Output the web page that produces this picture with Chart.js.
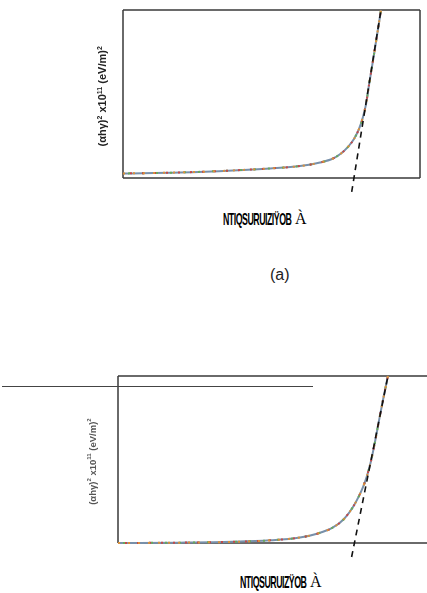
<!DOCTYPE html>
<html>
<head>
<meta charset="utf-8">
<script src="https://cdn.jsdelivr.net/npm/chart.js@4.4.0/dist/chart.umd.min.js"></script>
<style>
  html, body { margin: 0; padding: 0; background: #fff; }
  body { width: 427px; height: 593px; position: relative; overflow: hidden; }
  canvas { position: absolute; }
  .ylab { position: absolute; white-space: nowrap; font-family: "Liberation Sans", Arial, sans-serif;
          font-weight: bold; text-align: center; transform: rotate(-90deg); transform-origin: center center; }
  .xlab { position: absolute; white-space: nowrap; height: 20px; }
  .xlab .g { display: inline-block; width: 70px; height: 18px; position: relative; vertical-align: bottom; }
  .xlab .gi { position: absolute; left: 0; top: 0; font-family: "Liberation Sans Narrow", "Liberation Sans", sans-serif;
              font-weight: bold; font-size: 17px; letter-spacing: -1px; transform: scaleX(0.52);
              transform-origin: left center; }
  .xlab .s { font-family: "Liberation Serif", serif; font-size: 16px; margin-left: 2px; vertical-align: bottom; }
</style>
</head>
<body>
<canvas id="chart_a" width="427" height="200" style="left:0;top:0;width:427px;height:200px"></canvas>
<canvas id="chart_b" width="480" height="210" style="left:0;top:360px;width:480px;height:210px"></canvas>

<div class="ylab" style="left:32px;top:90px;width:140px;font-size:11px;color:#222">(αhγ)<sup style="font-size:7px">2</sup> x10<sup style="font-size:7px">11</sup> (eV/m)<sup style="font-size:7px">2</sup></div>
<div class="ylab" style="left:32px;top:456px;width:120px;font-size:9.5px;color:#555">(αhγ)<sup style="font-size:6px">2</sup> x10<sup style="font-size:6px">11</sup> (eV/m)<sup style="font-size:6px">2</sup></div>

<div class="xlab" style="left:223px;top:210px"><span class="g"><span class="gi">NTIQSURUIZIŸOB</span></span><span class="s">À</span></div>
<div class="xlab" style="left:240px;top:573px"><span class="g" style="width:68px"><span class="gi">NTIQSURUIZŸOB</span></span><span class="s">À</span></div>
<div style="position:absolute;left:270px;top:266px;font-family:'Liberation Sans',Arial,sans-serif;font-size:16px;color:#222">(a)</div>
<div style="position:absolute;left:2px;top:386px;width:311px;height:0;border-top:1.5px solid #444"></div>

<script>
// panel (a) data, photon energy (eV) vs (ahv)^2
const energy_a = [1.5, 2.076, 2.611, 2.985, 3.288, 3.49, 3.621, 3.702, 3.773, 3.833, 3.884, 3.924, 3.955, 3.985, 4.036, 4.106];
const abs_a    = [0.27, 0.33, 0.45, 0.57, 0.71, 0.92, 1.16, 1.46, 1.85, 2.32, 2.92, 3.63, 4.40, 5.54, 7.38, 10.0];
// tangent line (a)
const fit_x_a = [3.81, 4.106];
const fit_y_a = [-0.83, 10.0];

// panel (b) data
const energy_b = [1.5, 2.126, 2.662, 3.035, 3.338, 3.52, 3.672, 3.783, 3.874, 3.934, 3.975, 4.015, 4.056, 4.096, 4.136, 4.177, 4.227];
const abs_b    = [0.0, 0.02, 0.07, 0.16, 0.33, 0.57, 0.93, 1.44, 2.16, 2.81, 3.35, 4.01, 4.91, 6.05, 7.31, 8.56, 10.0];
// tangent line (b)
const fit_x_b = [3.86, 4.227];
const fit_y_b = [-0.84, 10.0];

function pts(xs, ys) {
    return xs.map((x, i) => ({x: x, y: ys[i]}));
}

// draws the frame round the plot area
function framePlugin(sides) {
    return {
        id: "frame",
        beforeDatasetsDraw(chart) {
            const a = chart.chartArea;
            const ctx = chart.ctx;
            ctx.save();
            ctx.strokeStyle = "#3a3a3a";
            ctx.lineWidth = 1.5;
            ctx.beginPath();
            if (sides.top) { ctx.moveTo(a.left, a.top); ctx.lineTo(a.right, a.top); }
            if (sides.right) { ctx.moveTo(a.right, a.top); ctx.lineTo(a.right, a.bottom); }
            if (sides.bottom) { ctx.moveTo(a.left, a.bottom); ctx.lineTo(a.right, a.bottom); }
            if (sides.left) { ctx.moveTo(a.left, a.top); ctx.lineTo(a.left, a.bottom); }
            ctx.stroke();
            ctx.restore();
        }
    };
}

// the measured curve is several overlapping coloured traces
// (lower index is drawn on top, so the plain trace goes last)
function curveSets(data) {
    const base = {data: data, pointRadius: 0, fill: false, clip: false, cubicInterpolationMode: "monotone"};
    return [
        Object.assign({}, base, {borderColor: "#d9903a", borderWidth: 2, borderDash: [2, 8]}),
        Object.assign({}, base, {borderColor: "#c44848", borderWidth: 2, borderDash: [2, 10], borderDashOffset: 5}),
        Object.assign({}, base, {borderColor: "#68a95a", borderWidth: 2, borderDash: [2, 12], borderDashOffset: 9}),
        Object.assign({}, base, {borderColor: "#7890aa", borderWidth: 2})
    ];
}

function fitSet(data) {
    return {data: data, pointRadius: 0, fill: false, clip: false, borderColor: "#111",
            borderWidth: 1.6, borderDash: [6, 5], tension: 0};
}

function makeChart(canvas, curve, fit, xmin, xmax, padding, sides) {
    return new Chart(canvas, {
        type: "line",
        data: {datasets: [fitSet(fit)].concat(curveSets(curve))},
        options: {
            responsive: false,
            animation: false,
            layout: {padding: padding},
            plugins: {legend: {display: false}, tooltip: {enabled: false}},
            scales: {
                x: {type: "linear", display: false, min: xmin, max: xmax},
                y: {type: "linear", display: false, min: 0, max: 10}
            }
        },
        plugins: [framePlugin(sides)]
    });
}

const chart_a = makeChart(document.getElementById("chart_a"), pts(energy_a, abs_a), pts(fit_x_a, fit_y_a),
    1.5, 4.5, {left: 123, top: 10, right: 7, bottom: 22},
    {top: true, right: true, bottom: true, left: true});

const chart_b = makeChart(document.getElementById("chart_b"), pts(energy_b, abs_b), pts(fit_x_b, fit_y_b),
    1.5, 5.056, {left: 118, top: 16, right: 10, bottom: 27},
    {top: true, right: false, bottom: true, left: true});
</script>
</body>
</html>
